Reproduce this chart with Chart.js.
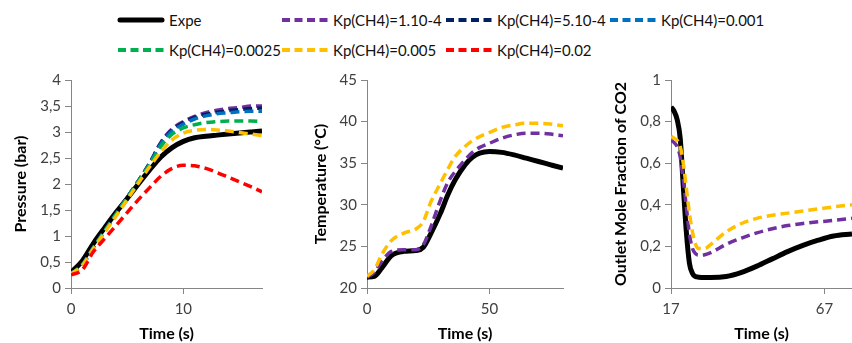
<!DOCTYPE html>
<html>
<head>
<meta charset="utf-8">
<script src="https://cdn.jsdelivr.net/npm/chart.js@4.4.0/dist/chart.umd.min.js"></script>
<style>
  body { margin: 0; width: 852px; height: 343px; overflow: hidden; background: #fff; font-family: Lato, sans-serif; position: relative; }
  .panel { position: absolute; top: 60px; height: 283px; }
  .leg { position: absolute; display: flex; align-items: center; font-size: 15px; color: #111; white-space: nowrap; }
  .leg canvas { margin-right: 4px; }
</style>
</head>
<body>
<div id="legend"></div>
<div class="panel" style="left:0;width:268px"><canvas id="pressure"></canvas></div>
<div class="panel" style="left:300px;width:269px"><canvas id="temperature"></canvas></div>
<div class="panel" style="left:600px;width:252px"><canvas id="co2"></canvas></div>
<script>
// series names + colours (shared legend)
const seriesNames = ['Expe', 'Kp(CH4)=1.10-4', 'Kp(CH4)=5.10-4', 'Kp(CH4)=0.001', 'Kp(CH4)=0.0025', 'Kp(CH4)=0.005', 'Kp(CH4)=0.02'];
const seriesColors = ['#000000', '#7030A0', '#002060', '#0070C0', '#00B050', '#FFC000', '#FF0000'];

// pressure panel
const pressureTime = [0, 1, 2, 3, 4, 5, 6, 7, 8, 9, 10, 11, 12, 13, 14, 15, 16, 17];
const pressureExpe   = [0.30, 0.52, 0.86, 1.16, 1.45, 1.72, 2.00, 2.27, 2.52, 2.70, 2.82, 2.89, 2.92, 2.94, 2.96, 2.98, 3.00, 3.02];
const pressureKp1e4  = [0.27, 0.45, 0.78, 1.10, 1.42, 1.74, 2.06, 2.40, 2.80, 3.06, 3.20, 3.30, 3.37, 3.42, 3.45, 3.47, 3.50, 3.50];
const pressureKp5e4  = [0.27, 0.45, 0.78, 1.10, 1.42, 1.74, 2.06, 2.40, 2.79, 3.04, 3.18, 3.28, 3.34, 3.38, 3.41, 3.43, 3.45, 3.46];
const pressureKp001  = [0.27, 0.45, 0.78, 1.10, 1.42, 1.74, 2.06, 2.39, 2.77, 3.02, 3.15, 3.25, 3.31, 3.35, 3.37, 3.39, 3.40, 3.40];
const pressureKp0025 = [0.27, 0.44, 0.77, 1.09, 1.41, 1.73, 2.05, 2.37, 2.72, 2.96, 3.08, 3.14, 3.18, 3.20, 3.21, 3.21, 3.21, 3.20];
const pressureKp005  = [0.27, 0.43, 0.76, 1.07, 1.38, 1.70, 2.02, 2.33, 2.62, 2.85, 2.98, 3.03, 3.05, 3.04, 3.02, 2.99, 2.96, 2.93];
const pressureKp02   = [0.25, 0.35, 0.70, 0.95, 1.20, 1.45, 1.70, 1.93, 2.15, 2.30, 2.36, 2.35, 2.30, 2.22, 2.13, 2.04, 1.95, 1.85];
const pressureXTicks = [0, 10];
const pressureYTicks = [0, 0.5, 1, 1.5, 2, 2.5, 3, 3.5, 4];

// temperature panel
const tempTime = [0, 3, 6, 10, 15, 20, 23, 26, 30, 33, 36, 40, 43, 46, 50, 55, 60, 65, 70, 75, 80];
const tempExpe  = [21.3, 21.4, 22.4, 23.9, 24.4, 24.5, 24.9, 26.5, 29.0, 31.2, 33.0, 34.8, 35.7, 36.2, 36.4, 36.3, 36.0, 35.6, 35.2, 34.8, 34.4];
const tempKp1e4 = [21.3, 21.9, 23.2, 24.4, 24.6, 24.6, 25.2, 27.3, 30.6, 32.7, 34.0, 35.4, 36.3, 36.9, 37.4, 38.0, 38.4, 38.6, 38.6, 38.5, 38.3];
const tempKp005 = [21.4, 22.2, 24.0, 25.7, 26.6, 27.1, 28.0, 30.3, 32.6, 34.3, 35.8, 37.0, 37.7, 38.2, 38.7, 39.3, 39.6, 39.8, 39.8, 39.7, 39.5];
const tempXTicks = [0, 50];
const tempYTicks = [20, 25, 30, 35, 40, 45];

// outlet CO2 panel
const co2Time = [17, 18, 19, 20, 21, 22, 23, 24, 25, 26, 28, 30, 35, 40, 45, 50, 55, 60, 65, 70, 76];
const co2Expe  = [0.87, 0.85, 0.81, 0.72, 0.49, 0.27, 0.12, 0.07, 0.055, 0.052, 0.05, 0.05, 0.055, 0.075, 0.105, 0.14, 0.175, 0.205, 0.23, 0.25, 0.26];
const co2Kp1e4 = [0.71, 0.70, 0.68, 0.63, 0.52, 0.39, 0.26, 0.19, 0.165, 0.158, 0.16, 0.17, 0.21, 0.24, 0.265, 0.285, 0.30, 0.31, 0.318, 0.325, 0.335];
const co2Kp005 = [0.73, 0.72, 0.71, 0.68, 0.60, 0.48, 0.36, 0.27, 0.21, 0.19, 0.19, 0.21, 0.27, 0.31, 0.335, 0.35, 0.36, 0.37, 0.38, 0.39, 0.40];
const co2XTicks = [17, 67];
const co2YTicks = [0, 0.2, 0.4, 0.6, 0.8, 1];

Chart.defaults.font.family = 'Lato, sans-serif';
const AXIS = '#868686';

function ds(idx, times, vals) {
  const expe = idx === 0;
  return {
    label: seriesNames[idx],
    data: times.map((t, i) => ({ x: t, y: vals[i] })),
    borderColor: seriesColors[idx],
    borderWidth: expe ? 5 : 3.5,
    borderDash: expe ? [] : [9, 5],
    pointRadius: 0,
    cubicInterpolationMode: 'monotone',
    fill: false,
    order: expe ? 100 : 10 - idx
  };
}

function makeChart(id, datasets, xr, yr, yTitle, yWidth, padRight) {
  const comma = v => String(v).replace('.', ',');
  new Chart(document.getElementById(id), {
    type: 'line',
    data: { datasets: datasets },
    options: {
      animation: false,
      responsive: true,
      maintainAspectRatio: false,
      layout: { padding: { top: 20, right: padRight, left: 0, bottom: 0 } },
      plugins: { legend: { display: false }, tooltip: { enabled: false } },
      scales: {
        x: {
          type: 'linear', min: xr.min, max: xr.max,
          afterBuildTicks: s => { s.ticks = xr.ticks.map(v => ({ value: v })) },
          afterFit: s => { s.height = 55 },
          border: { color: AXIS },
          grid: { drawOnChartArea: false, tickLength: 6, color: AXIS },
          ticks: { font: { size: 15 }, color: '#404040', padding: 6, maxRotation: 0, autoSkip: false },
          title: { display: true, text: 'Time (s)', color: '#000', font: { size: 16, weight: 'bold' }, padding: { top: 0, bottom: 0 } }
        },
        y: {
          min: yr.min, max: yr.max,
          afterBuildTicks: s => { s.ticks = yr.ticks.map(v => ({ value: v })) },
          afterFit: s => { s.width = yWidth },
          border: { color: AXIS },
          grid: { drawOnChartArea: false, tickLength: 6, color: AXIS },
          ticks: { font: { size: 15 }, color: '#404040', padding: 4, callback: comma, autoSkip: false },
          title: { display: true, text: yTitle, color: '#000', font: { size: 16, weight: 'bold' }, padding: { top: 11, bottom: 0 } }
        }
      }
    }
  });
}

makeChart('pressure', [
  ds(0, pressureTime, pressureExpe),
  ds(1, pressureTime, pressureKp1e4),
  ds(2, pressureTime, pressureKp5e4),
  ds(3, pressureTime, pressureKp001),
  ds(4, pressureTime, pressureKp0025),
  ds(5, pressureTime, pressureKp005),
  ds(6, pressureTime, pressureKp02)
], { min: 0, max: 17, ticks: pressureXTicks }, { min: 0, max: 4, ticks: pressureYTicks }, 'Pressure (bar)', 71, 6);

makeChart('temperature', [
  ds(0, tempTime, tempExpe),
  ds(1, tempTime, tempKp1e4),
  ds(5, tempTime, tempKp005)
], { min: 0, max: 80, ticks: tempXTicks }, { min: 20, max: 45, ticks: tempYTicks }, 'Temperature (°C)', 67, 6);

makeChart('co2', [
  ds(0, co2Time, co2Expe),
  ds(1, co2Time, co2Kp1e4),
  ds(5, co2Time, co2Kp005)
], { min: 17, max: 76, ticks: co2XTicks }, { min: 0, max: 1, ticks: co2YTicks }, 'Outlet Mole Fraction of CO2', 71, 0);

// shared legend, 4 columns x 2 rows
const legend = document.getElementById('legend');
seriesNames.forEach((name, i) => {
  const item = document.createElement('div');
  item.className = 'leg';
  item.style.left = (117 + (i % 4) * 164) + 'px';
  item.style.top = (10 + Math.floor(i / 4) * 30) + 'px';
  item.style.height = '20px';
  const c = document.createElement('canvas');
  c.width = 48; c.height = 10;
  const g = c.getContext('2d');
  g.strokeStyle = seriesColors[i];
  g.beginPath();
  if (i === 0) {
    g.lineWidth = 5; g.lineCap = 'round';
    g.moveTo(3, 5); g.lineTo(45, 5);
  } else {
    g.lineWidth = 4; g.setLineDash([8, 4.5]);
    g.moveTo(1, 5); g.lineTo(47, 5);
  }
  g.stroke();
  item.appendChild(c);
  const span = document.createElement('span');
  span.textContent = name;
  item.appendChild(span);
  legend.appendChild(item);
});
</script>
</body>
</html>
